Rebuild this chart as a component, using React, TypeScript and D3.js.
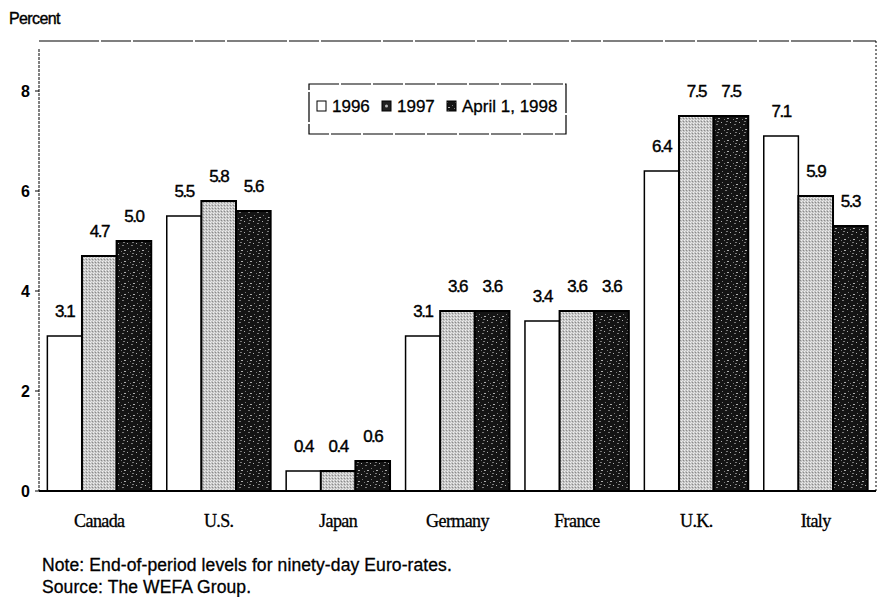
import React, { useEffect, useRef } from 'react';
import * as d3 from 'd3';

const countries = ['Canada', 'U.S.', 'Japan', 'Germany', 'France', 'U.K.', 'Italy'];
const seriesNames = ['1996', '1997', 'April 1, 1998'];
const rates1996 = [3.1, 5.5, 0.4, 3.1, 3.4, 6.4, 7.1];
const rates1997 = [4.7, 5.8, 0.4, 3.6, 3.6, 7.5, 5.9];
const ratesApr1998 = [5.0, 5.6, 0.6, 3.6, 3.6, 7.5, 5.3];
const yTicks = [0, 2, 4, 6, 8];

const fills = ['#ffffff', 'url(#grayDots)', 'url(#darkSpeck)'];
const sans = 'Liberation Sans, Arial, sans-serif';

export default function App() {
  const svgRef = useRef<SVGSVGElement>(null);

  useEffect(() => {
    if (!svgRef.current) return;
    const svg = d3.select(svgRef.current);
    svg.selectAll('*').remove();

    const left = 39, right = 876, top = 41, bottom = 491;
    const series = [rates1996, rates1997, ratesApr1998];

    const defs = svg.append('defs');
    const gp = defs.append('pattern').attr('id', 'grayDots').attr('patternUnits', 'userSpaceOnUse')
      .attr('width', 3).attr('height', 3);
    gp.append('rect').attr('width', 3).attr('height', 3).attr('fill', '#c4c4c4');
    gp.append('rect').attr('x', 0).attr('y', 0).attr('width', 1).attr('height', 1).attr('fill', '#f2f2f2');
    gp.append('rect').attr('x', 2).attr('y', 1).attr('width', 1).attr('height', 1).attr('fill', '#8a8a8a');
    gp.append('rect').attr('x', 1).attr('y', 2).attr('width', 1).attr('height', 1).attr('fill', '#e6e6e6');

    const dp = defs.append('pattern').attr('id', 'darkSpeck').attr('patternUnits', 'userSpaceOnUse')
      .attr('width', 9).attr('height', 11);
    dp.append('rect').attr('width', 9).attr('height', 11).attr('fill', '#141414');
    [[1, 1], [5, 3], [2, 6], [7, 8], [4, 9], [6, 0]].forEach(([px, py], i) => {
      dp.append('rect').attr('x', px).attr('y', py).attr('width', i % 2 ? 2 : 1).attr('height', 1)
        .attr('fill', i % 3 ? '#7a7a7a' : '#b0b0b0');
    });

    const x0 = d3.scaleBand().domain(countries).range([left, right]).paddingInner(0.13).paddingOuter(0.07);
    const x1 = d3.scaleBand().domain(seriesNames).range([0, x0.bandwidth()]);
    const y = d3.scaleLinear().domain([0, 9]).range([bottom, top]);

    // frame
    svg.append('line').attr('x1', left).attr('x2', right).attr('y1', top).attr('y2', top)
      .attr('stroke', '#000').attr('stroke-width', 1.2).attr('stroke-dasharray', '60,2,30,2');
    svg.append('line').attr('x1', right).attr('x2', right).attr('y1', top).attr('y2', bottom)
      .attr('stroke', '#000').attr('stroke-width', 1).attr('stroke-dasharray', '2,2');
    svg.append('line').attr('x1', left).attr('x2', left).attr('y1', top + 8).attr('y2', bottom)
      .attr('stroke', '#000').attr('stroke-width', 1).attr('stroke-dasharray', '3,1');

    const g = svg.append('g');
    countries.forEach((c, ci) => {
      series.forEach((vals, si) => {
        const v = vals[ci];
        const bx = x0(c)! + x1(seriesNames[si])!;
        g.append('rect')
          .attr('x', bx).attr('y', y(v))
          .attr('width', x1.bandwidth()).attr('height', bottom - y(v))
          .attr('fill', fills[si])
          .attr('stroke', '#000').attr('stroke-width', si === 0 ? 1.5 : 2);
        g.append('text')
          .attr('x', bx + x1.bandwidth() / 2).attr('y', y(v) - 19)
          .attr('text-anchor', 'middle')
          .style('font-family', sans)
          .style('font-size', '17px').style('letter-spacing', '-1.5px')
          .attr('stroke', '#000').attr('stroke-width', 0.4)
          .text(v.toFixed(1));
      });
    });

    // baseline
    svg.append('line').attr('x1', left).attr('x2', right).attr('y1', bottom).attr('y2', bottom)
      .attr('stroke', '#000').attr('stroke-width', 2);

    // y ticks
    const ya = svg.append('g');
    yTicks.forEach(t => {
      ya.append('line').attr('x1', left - 4).attr('x2', left).attr('y1', y(t)).attr('y2', y(t))
        .attr('stroke', '#000').attr('stroke-width', 1);
      ya.append('text').attr('x', left - 9).attr('y', y(t) + 6).attr('text-anchor', 'end')
        .style('font-family', sans).style('font-size', '16px')
        .style('font-weight', 'bold').text(String(t));
    });

    // category labels
    countries.forEach(c => {
      svg.append('text').attr('x', x0(c)! + x0.bandwidth() / 2).attr('y', 527)
        .attr('text-anchor', 'middle')
        .style('font-family', 'Liberation Serif, Times New Roman, serif').style('font-size', '18px')
        .style('letter-spacing', '-0.6px')
        .attr('stroke', '#000').attr('stroke-width', 0.3)
        .text(c);
    });

    svg.append('text').attr('x', 9).attr('y', 24)
      .style('font-family', sans).style('font-size', '16px')
      .style('letter-spacing', '-0.6px')
      .attr('stroke', '#000').attr('stroke-width', 0.4)
      .text('Percent');

    // legend
    const lg = svg.append('g');
    lg.append('rect').attr('x', 309).attr('y', 84).attr('width', 257).attr('height', 50)
      .attr('fill', '#fff').attr('stroke', '#000').attr('stroke-width', 1.2).attr('stroke-dasharray', '30,2');
    const legendX = [317, 382, 447];
    seriesNames.forEach((s, i) => {
      lg.append('rect').attr('x', legendX[i]).attr('y', 101).attr('width', 9).attr('height', 10)
        .attr('fill', i === 1 ? '#222' : fills[i]).attr('stroke', '#000').attr('stroke-width', 1);
      if (i === 1) {
        lg.append('circle').attr('cx', legendX[i] + 4.5).attr('cy', 106).attr('r', 1.5).attr('fill', '#bbb');
      }
      lg.append('text').attr('x', legendX[i] + 15).attr('y', 112)
        .style('font-family', sans).style('font-size', '17px')
        .style('letter-spacing', '0px')
        .attr('stroke', '#000').attr('stroke-width', 0.3)
        .text(s);
    });

    // notes
    const note = svg.append('g').style('font-family', sans)
      .style('font-size', '17.5px').style('letter-spacing', '0.1px')
      .attr('stroke', '#000').attr('stroke-width', 0.3);
    note.append('text').attr('x', 42).attr('y', 571).text('Note:  End-of-period levels for ninety-day Euro-rates.');
    note.append('text').attr('x', 42).attr('y', 593).text('Source: The WEFA Group.');
  }, []);

  return (
    <svg ref={svgRef} width={882} height={597}
      style={{ position: 'absolute', left: 0, top: 0, background: '#fff' }} />
  );
}
